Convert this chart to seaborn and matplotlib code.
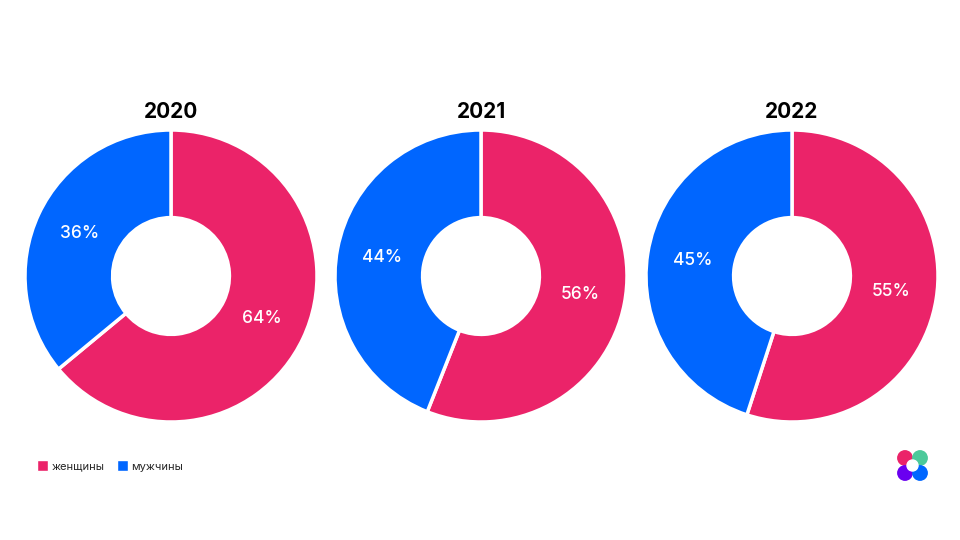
import matplotlib
matplotlib.use("Agg")
import matplotlib.pyplot as plt
import matplotlib.patches as mpatches
import seaborn as sns

# ── Data ──────────────────────────────────────────────────────────────────────
YEARS   = ["2020", "2021", "2022"]
WOMEN   = [64, 56, 55]
MEN     = [36, 44, 45]
LABELS  = ["женщины", "мужчины"]

COL_WOMEN = "#EB2369"
COL_MEN   = "#0066FF"

sns.set_theme(style="white")
plt.rcParams["font.family"] = ["Inter", "DejaVu Sans"]

fig = plt.figure(figsize=(9.6, 5.4), dpi=100)

# donut centres in pixels (x), shared y
CX = [171, 481, 792]
CY = 276
R  = 146
W_PX, H_PX = 960, 540

for cx, year, w, m in zip(CX, YEARS, WOMEN, MEN):
    ax = fig.add_axes([(cx - R) / W_PX, (H_PX - CY - R) / H_PX,
                       2 * R / W_PX, 2 * R / H_PX])
    ax.pie([w, m], colors=[COL_WOMEN, COL_MEN], startangle=90,
           counterclock=False, radius=1,
           autopct=lambda p: f"{p:.0f}%", pctdistance=0.69,
           wedgeprops=dict(width=0.6, edgecolor="white", linewidth=2.5),
           textprops=dict(color="white", fontsize=12.5, fontweight="medium"))
    ax.text(0, 1.12, year, ha="center", va="center",
            fontsize=15, fontweight="bold", color="black")
    ax.set_xlim(-1, 1)
    ax.set_ylim(-1, 1)
    ax.set_aspect("equal")
    ax.axis("off")

# ── Legend ────────────────────────────────────────────────────────────────────
handles = [mpatches.Patch(facecolor=c, label=l)
           for c, l in zip([COL_WOMEN, COL_MEN], LABELS)]
fig.legend(handles=handles, loc="center left", bbox_to_anchor=(0.028, 0.137),
           ncol=2, frameon=False, fontsize=8, handlelength=1.0,
           handleheight=1.1, handletextpad=0.3, columnspacing=1.1)

# ── Logo ──────────────────────────────────────────────────────────────────────
lax = fig.add_axes([890 / W_PX, (H_PX - 488) / H_PX, 46 / W_PX, 46 / H_PX])
lax.set_xlim(0, 46)
lax.set_ylim(46, 0)
lax.set_aspect("equal")
lax.axis("off")
for (x, y), c in zip([(15, 16), (30, 16), (15, 31), (30, 31)],
                     ["#EB2369", "#4CC99A", "#6A00F0", "#0066FF"]):
    lax.add_patch(mpatches.Circle((x, y), 7.2, color=c))
lax.add_patch(mpatches.Circle((22.5, 23.5), 5.5, color="white"))

fig.savefig("out.png", dpi=100)
